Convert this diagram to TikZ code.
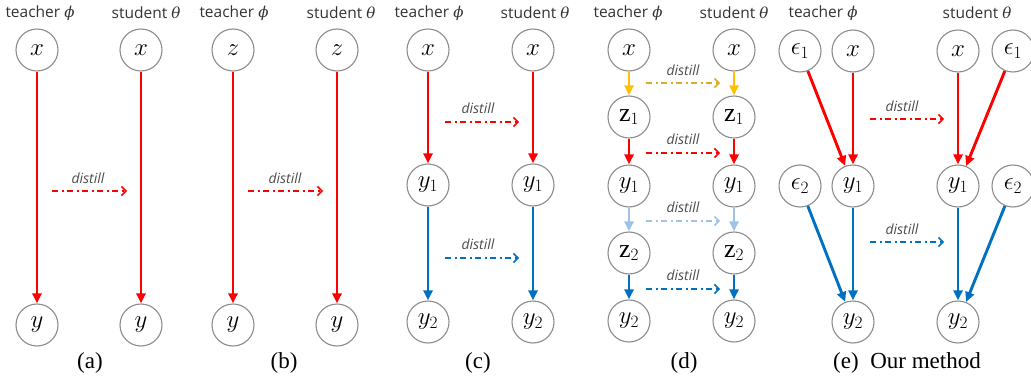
\documentclass[tikz,border=0pt]{standalone}
\usepackage{fontspec}
\setmainfont{Liberation Serif}
\newfontfamily\hdrfont{Open Sans}
\newfontfamily\grkfont{DejaVu Serif}
\newcommand{\tphi}{{\grkfont\itshape\fontsize{15}{17}\selectfont ϕ}}
\newcommand{\ttheta}{{\grkfont\itshape\fontsize{15}{17}\selectfont θ}}
\usetikzlibrary{arrows.meta}
\definecolor{cred}{HTML}{FF0000}
\definecolor{cblue}{HTML}{0070C0}
\definecolor{cyellow}{HTML}{FFC000}
\definecolor{cyelldist}{HTML}{DDAA2A}
\definecolor{clblue}{HTML}{9DC3E6}
\definecolor{circgray}{HTML}{8C8C8C}
\begin{document}
\begin{tikzpicture}[x=1pt,y=-1pt,
  var/.style={circle,draw=circgray,line width=1.1pt,minimum size=42pt,inner sep=0pt,fill=white,font=\fontsize{26}{28}\selectfont},
  hdr/.style={font=\hdrfont\fontsize{15.5}{17}\selectfont,text=black!80},
  flow/.style={line width=2.9pt,-{Triangle[length=10pt,width=9pt]}},
  dist/.style={line width=1.5pt,dash pattern=on 6pt off 3.5pt on 2pt off 3.5pt,-{Straight Barb[length=4.5pt,width=9pt,line width=1.5pt]}},
  dlab/.style={font=\hdrfont\itshape\fontsize{14}{16}\selectfont,text=black!70},
  captext/.style={font=\fontsize{23}{25}\selectfont}]
\useasboundingbox (0,0) rectangle (1031,377);

% ---------- (a)
\node[hdr] (ha1) at (40,13) {teacher \tphi};
\node[hdr] (ha2) at (146,13) {student \ttheta};
\node[var] (a1) at (37,50) {$x$};
\node[var] (a2) at (37,325) {$y$};
\node[var] (a3) at (141,50) {$x$};
\node[var] (a4) at (141,325) {$y$};
\draw[flow,cred] (a1) -- (a2);
\draw[flow,cred] (a3) -- (a4);
\coordinate (da1) at (52,191);
\coordinate (da2) at (127,191);
\draw[dist,cred] (da1) -- (da2);
\node[dlab] (la) at (88,178) {distill};
\node[captext] (ca) at (90,363) {(a)};

% ---------- (b)
\node[hdr] (hb1) at (234,13) {teacher \tphi};
\node[hdr] (hb2) at (341,13) {student \ttheta};
\node[var] (b1) at (233,50) {$z$};
\node[var] (b2) at (233,325) {$y$};
\node[var] (b3) at (337,50) {$z$};
\node[var] (b4) at (337,325) {$y$};
\draw[flow,cred] (b1) -- (b2);
\draw[flow,cred] (b3) -- (b4);
\coordinate (db1) at (248,191);
\coordinate (db2) at (323,191);
\draw[dist,cred] (db1) -- (db2);
\node[dlab] (lb) at (285,178) {distill};
\node[captext] (cb) at (284,363) {(b)};

% ---------- (c)
\node[hdr] (hc1) at (429,13) {teacher \tphi};
\node[hdr] (hc2) at (535,13) {student \ttheta};
\node[var] (c1) at (428,50) {$x$};
\node[var] (c2) at (428,185) {$y_1$};
\node[var] (c3) at (428,322) {$y_2$};
\node[var] (c4) at (533,50) {$x$};
\node[var] (c5) at (533,185) {$y_1$};
\node[var] (c6) at (533,322) {$y_2$};
\draw[flow,cred] (c1) -- (c2);
\draw[flow,cblue] (c2) -- (c3);
\draw[flow,cred] (c4) -- (c5);
\draw[flow,cblue] (c5) -- (c6);
\coordinate (dc1) at (445,122);
\coordinate (dc2) at (519,122);
\coordinate (dc3) at (445,258);
\coordinate (dc4) at (519,258);
\draw[dist,cred] (dc1) -- (dc2);
\draw[dist,cblue] (dc3) -- (dc4);
\node[dlab] (lc1) at (478,108) {distill};
\node[dlab] (lc2) at (478,244) {distill};
\node[captext] (cc) at (478,363) {(c)};

% ---------- (d)
\node[hdr] (hd1) at (628,13) {teacher \tphi};
\node[hdr] (hd2) at (734,13) {student \ttheta};
\node[var] (d1) at (629,50) {$x$};
\node[var] (d2) at (629,117) {$\mathrm{z}_1$};
\node[var] (d3) at (629,186) {$y_1$};
\node[var] (d4) at (629,253) {$\mathrm{z}_2$};
\node[var] (d5) at (629,321) {$y_2$};
\node[var] (d6) at (734,50) {$x$};
\node[var] (d7) at (734,117) {$\mathrm{z}_1$};
\node[var] (d8) at (734,186) {$y_1$};
\node[var] (d9) at (734,253) {$\mathrm{z}_2$};
\node[var] (d10) at (734,321) {$y_2$};
\draw[flow,cyellow] (d1) -- (d2);
\draw[flow,cred] (d2) -- (d3);
\draw[flow,clblue] (d3) -- (d4);
\draw[flow,cblue] (d4) -- (d5);
\draw[flow,cyellow] (d6) -- (d7);
\draw[flow,cred] (d7) -- (d8);
\draw[flow,clblue] (d8) -- (d9);
\draw[flow,cblue] (d9) -- (d10);
\coordinate (dd1) at (646,83);
\coordinate (dd2) at (720,83);
\coordinate (dd3) at (646,153);
\coordinate (dd4) at (720,153);
\coordinate (dd5) at (646,221);
\coordinate (dd6) at (720,221);
\coordinate (dd7) at (646,289);
\coordinate (dd8) at (720,289);
\draw[dist,cyelldist] (dd1) -- (dd2);
\draw[dist,cred] (dd3) -- (dd4);
\draw[dist,clblue] (dd5) -- (dd6);
\draw[dist,cblue] (dd7) -- (dd8);
\node[dlab] (ld1) at (683,70) {distill};
\node[dlab] (ld2) at (683,139) {distill};
\node[dlab] (ld3) at (683,207) {distill};
\node[dlab] (ld4) at (683,275) {distill};
\node[captext] (cd) at (684,363) {(d)};

% ---------- (e)
\node[hdr] (he1) at (823,13) {teacher \tphi};
\node[hdr] (he2) at (977,13) {student \ttheta};
\node[var] (e1) at (800,51) {$\epsilon_1$};
\node[var] (e2) at (853,51) {$x$};
\node[var] (e3) at (800,186) {$\epsilon_2$};
\node[var] (e4) at (853,186) {$y_1$};
\node[var] (e5) at (853,322) {$y_2$};
\node[var] (e6) at (958,51) {$x$};
\node[var] (e7) at (1013,51) {$\epsilon_1$};
\node[var] (e8) at (958,186) {$y_1$};
\node[var] (e9) at (1013,186) {$\epsilon_2$};
\node[var] (e10) at (958,322) {$y_2$};
\draw[flow,cred] (e1) -- (e4);
\draw[flow,cred] (e2) -- (e4);
\draw[flow,cblue] (e3) -- (e5);
\draw[flow,cblue] (e4) -- (e5);
\draw[flow,cred] (e6) -- (e8);
\draw[flow,cred] (e7) -- (e8);
\draw[flow,cblue] (e8) -- (e10);
\draw[flow,cblue] (e9) -- (e10);
\coordinate (de1) at (870,119);
\coordinate (de2) at (944,119);
\coordinate (de3) at (870,242);
\coordinate (de4) at (944,242);
\draw[dist,cred] (de1) -- (de2);
\draw[dist,cblue] (de3) -- (de4);
\node[dlab] (le1) at (902,106) {distill};
\node[dlab] (le2) at (902,229) {distill};
\node[captext] (ce) at (907,363) {(e)\ \ Our method};
\end{tikzpicture}
\end{document}
